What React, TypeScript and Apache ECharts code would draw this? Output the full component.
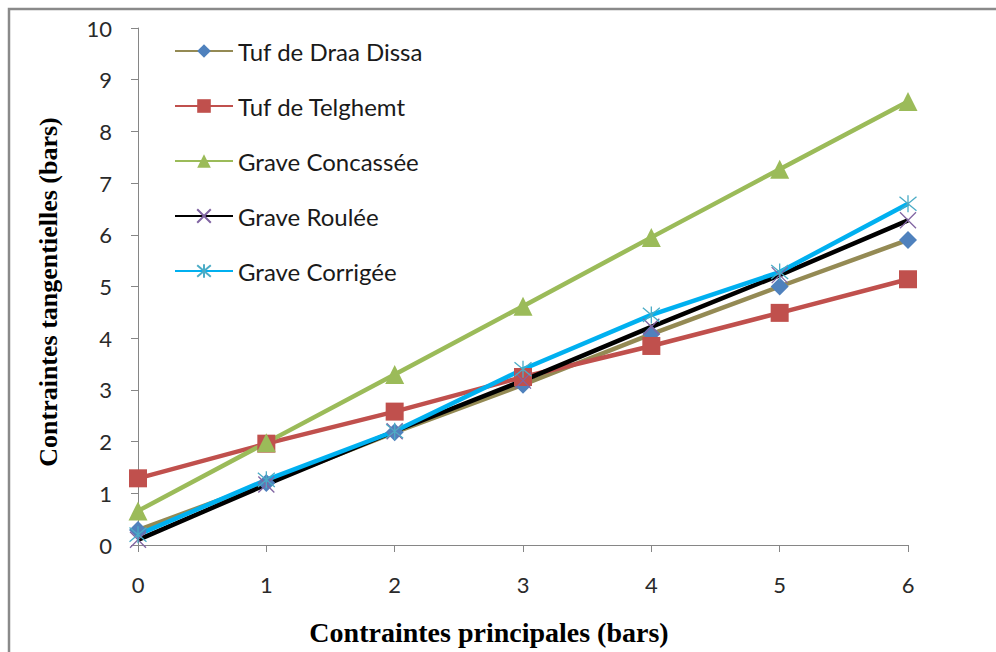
import React, { useEffect, useRef } from "react";
import * as echarts from "echarts";

const xValues = [0, 1, 2, 3, 4, 5, 6];
const seriesNames = [
  "Tuf de Draa Dissa",
  "Tuf de Telghemt",
  "Grave Concassée",
  "Grave Roulée",
  "Grave Corrigée",
];
const draaDissa = [0.29, 1.2, 2.18, 3.1, 4.08, 5.0, 5.9];
const telghemt = [1.29, 1.96, 2.58, 3.25, 3.85, 4.49, 5.14];
const concassee = [0.66, 1.98, 3.3, 4.62, 5.95, 7.27, 8.58];
const roulee = [0.1, 1.17, 2.2, 3.18, 4.22, 5.22, 6.28];
const corrigee = [0.2, 1.26, 2.2, 3.4, 4.45, 5.28, 6.6];

const xTitle = "Contraintes principales (bars)";
const yTitle = "Contraintes tangentielles (bars)";

const CROSS = "path://M0,0L10,10M10,0L0,10";
const STAR = "path://M0,0L10,10M10,0L0,10M5,-1L5,11";

export default function App() {
  const ref = useRef<HTMLDivElement>(null);
  useEffect(() => {
    if (!ref.current) return;
    const chart = echarts.init(ref.current, null, { renderer: "svg" });
    const toPts = (arr: number[]) => arr.map((v, i) => [xValues[i], v]);
    const tickFont = { fontFamily: "Lato", fontSize: 22, color: "#2a2a2a" };
    const mk = (
      name: string,
      data: number[],
      lineColor: string,
      markColor: string,
      symbol: string,
      symbolSize: number,
      stroke = false
    ) => ({
      type: "line",
      name,
      data: toPts(data),
      symbol,
      symbolSize,
      showSymbol: true,
      lineStyle: { color: lineColor, width: 4.5 },
      itemStyle: stroke
        ? { color: markColor, borderColor: markColor, borderWidth: 1.3 }
        : { color: markColor, borderWidth: 0 },
      emphasis: { disabled: true },
    });
    chart.setOption({
      animation: false,
      backgroundColor: "#ffffff",
      grid: { left: 138, right: 88, top: 28, bottom: 107 },
      legend: {
        orient: "vertical",
        left: 169,
        top: 34,
        itemWidth: 58,
        itemHeight: 17,
        itemGap: 31,
        textStyle: { fontFamily: "Lato", fontSize: 24, color: "#1a1a1a" },
        data: seriesNames,
      },
      xAxis: {
        type: "value",
        min: 0,
        max: 6,
        interval: 1,
        axisLine: { show: true, lineStyle: { color: "#868686", width: 1 } },
        axisTick: { show: true, inside: false, length: 7, lineStyle: { color: "#868686" } },
        axisLabel: { ...tickFont, margin: 28 },
        splitLine: { show: false },
      },
      yAxis: {
        type: "value",
        min: 0,
        max: 10,
        interval: 1,
        axisLine: { show: true, lineStyle: { color: "#868686", width: 1 } },
        axisTick: { show: true, inside: false, length: 7, lineStyle: { color: "#868686" } },
        axisLabel: { ...tickFont, margin: 26 },
        splitLine: { show: false },
      },
      graphic: [
        {
          type: "rect",
          shape: { x: 9, y: 9, width: 1000, height: 700 },
          style: { fill: "none", stroke: "#8a8a8a", lineWidth: 2.5 },
          silent: true,
        },
        {
          type: "text",
          x: 489,
          y: 632,
          style: {
            text: xTitle,
            font: "bold 28px 'Liberation Serif'",
            fill: "#000",
            textAlign: "center",
            textVerticalAlign: "middle",
          },
        },
        {
          type: "text",
          x: 48,
          y: 292,
          rotation: Math.PI / 2,
          style: {
            text: yTitle,
            font: "bold 26px 'Liberation Serif'",
            fill: "#000",
            textAlign: "center",
            textVerticalAlign: "middle",
          },
        },
      ],
      series: [
        mk(seriesNames[0], draaDissa, "#948A54", "#4F81BD", "diamond", 18),
        mk(seriesNames[1], telghemt, "#C0504D", "#C0504D", "rect", 18),
        mk(seriesNames[2], concassee, "#9BBB59", "#9BBB59", "triangle", 19),
        mk(seriesNames[3], roulee, "#000000", "#8064A2", CROSS, 16, true),
        mk(seriesNames[4], corrigee, "#00B0F0", "#4BACC6", STAR, 17, true),
      ],
    });
    return () => chart.dispose();
  }, []);
  return (
    <div
      ref={ref}
      style={{ position: "absolute", left: 0, top: 0, width: 996, height: 652 }}
    />
  );
}
